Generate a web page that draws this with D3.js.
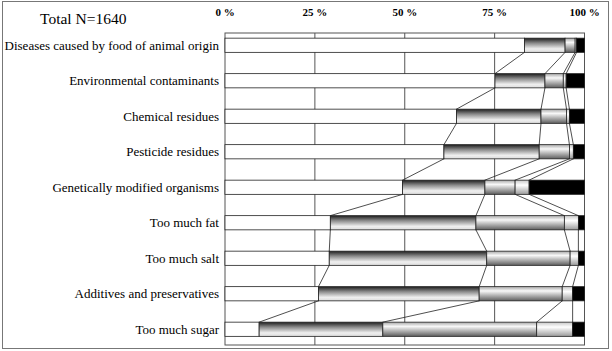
<!DOCTYPE html>
<html>
<head>
<script src="https://d3js.org/d3.v7.min.js"></script>
<style>
  body {margin: 0; background: #fff;}
  svg text {font-family: "Liberation Serif", "Times New Roman", serif;}
</style>
</head>
<body>
<script>
// categories, top to bottom
const categories = ["Diseases caused by food of animal origin", "Environmental contaminants",
  "Chemical residues", "Pesticide residues", "Genetically modified organisms",
  "Too much fat", "Too much salt", "Additives and preservatives", "Too much sugar"];

// share of answers (%) per segment, left to right
const seg1 = [83.3, 75.1, 64.4, 60.9, 49.4, 29.3, 29.0, 26.0, 9.5];
const seg2 = [11.3, 13.9, 23.5, 26.5, 22.9, 40.5, 43.8, 44.7, 34.4];
const seg3 = [2.8, 5.1, 7.1, 8.4, 8.4, 24.6, 23.2, 23.1, 42.8];
const seg4 = [0.4, 0.8, 0.8, 1.1, 3.9, 3.9, 2.3, 2.9, 10.0];
const seg5 = [2.2, 5.1, 4.2, 3.1, 15.4, 1.7, 1.7, 3.3, 3.3];

const ticks = [0, 25, 50, 75, 100];
const totalLabel = "Total N=1640";

const keys = ["s1", "s2", "s3", "s4", "s5"];
const rows = categories.map((c, i) => ({cat: c, s1: seg1[i], s2: seg2[i], s3: seg3[i], s4: seg4[i], s5: seg5[i]}));
const stacked = d3.stack().keys(keys)(rows);

const width = 612, height = 351;
const plotTop = 33, plotBottom = 345;

const svg = d3.select("body").append("svg")
  .attr("width", width).attr("height", height);

// gradients for the fills
const defs = svg.append("defs");
function grad(id, stops) {
  const g = defs.append("linearGradient").attr("id", id)
    .attr("x1", 0).attr("y1", 0).attr("x2", 0).attr("y2", 1);
  stops.forEach(s => g.append("stop").attr("offset", s[0]).attr("stop-color", s[1]));
}
grad("g2", [[0, "#1e1e1e"], [0.35, "#8a8a8a"], [0.75, "#efefef"], [1, "#dcdcdc"]]);
grad("g3", [[0, "#a8a8a8"], [0.3, "#f8f8f8"], [1, "#5e5e5e"]]);
grad("g4", [[0, "#c8c8c8"], [0.35, "#ffffff"], [1, "#9a9a9a"]]);
const fills = ["#ffffff", "url(#g2)", "url(#g3)", "url(#g4)", "#000000"];

// outer frame
svg.append("rect").attr("x", 2.5).attr("y", 1.5).attr("width", 606).attr("height", 347)
  .attr("fill", "none").attr("stroke", "#777").attr("stroke-width", 1);

const x = d3.scaleLinear().domain([0, 100]).range([225, 584.5]);
const y = d3.scaleBand().domain(categories).range([27.5, 347]).paddingInner(0.6).paddingOuter(0.3);

// plot frame and gridlines
svg.append("rect").attr("x", x(0)).attr("y", plotTop)
  .attr("width", x(100) - x(0)).attr("height", plotBottom - plotTop)
  .attr("fill", "none").attr("stroke", "#555").attr("stroke-width", 1);
svg.selectAll(".grid").data(ticks.slice(1, -1)).join("line")
  .attr("x1", d => x(d)).attr("x2", d => x(d))
  .attr("y1", plotTop).attr("y2", plotBottom)
  .attr("stroke", "#555").attr("stroke-width", 1);

// top axis labels
svg.selectAll(".tick").data(ticks).join("text")
  .attr("x", d => x(d)).attr("y", 16)
  .attr("text-anchor", "middle").attr("font-size", 11).attr("font-weight", "bold")
  .text(d => d + " %");

svg.append("text").attr("x", 40).attr("y", 24).attr("font-size", 15.5).text(totalLabel);

// bars
const bh = y.bandwidth();
svg.selectAll(".layer").data(stacked).join("g")
  .attr("fill", (d, i) => fills[i])
  .selectAll("rect").data(d => d).join("rect")
  .attr("x", d => x(d[0])).attr("width", d => x(d[1]) - x(d[0]))
  .attr("y", d => y(d.data.cat)).attr("height", bh)
  .attr("stroke", "#222").attr("stroke-width", 0.8);

// series lines joining the segment ends of neighbouring bars
stacked.slice(0, 4).forEach(layer => {
  for (let i = 0; i < layer.length - 1; i++) {
    const a = layer[i], b = layer[i + 1];
    svg.append("line")
      .attr("x1", x(a[1])).attr("y1", y(a.data.cat) + bh)
      .attr("x2", x(b[1])).attr("y2", y(b.data.cat))
      .attr("stroke", "#222").attr("stroke-width", 0.8);
  }
});

// category labels
svg.selectAll(".cat").data(categories).join("text")
  .attr("x", 219).attr("y", d => y(d) + bh / 2)
  .attr("dy", "0.35em").attr("text-anchor", "end").attr("font-size", 13)
  .text(d => d);
</script>
</body>
</html>
